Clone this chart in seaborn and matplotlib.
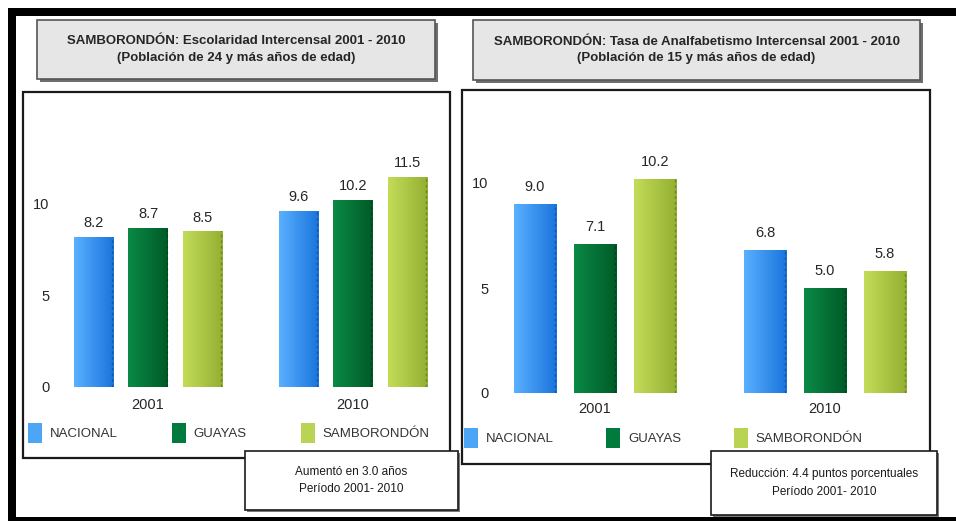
import numpy as np
import pandas as pd
import matplotlib
matplotlib.use("Agg")
import matplotlib.pyplot as plt
import seaborn as sns
from matplotlib.patches import Rectangle, Patch
from matplotlib.colors import LinearSegmentedColormap

# ---------------- data ----------------
years = ["2001", "2010"]
regions = ["NACIONAL", "GUAYAS", "SAMBORONDÓN"]
esc_nacional = [8.2, 9.6]
esc_guayas = [8.7, 10.2]
esc_samborondon = [8.5, 11.5]
anal_nacional = [9.0, 6.8]
anal_guayas = [7.1, 5.0]
anal_samborondon = [10.2, 5.8]
yticks = [0, 5, 10]
title_left = "SAMBORONDÓN: Escolaridad Intercensal 2001 - 2010\n(Población de 24 y más años de edad)"
title_right = "SAMBORONDÓN: Tasa de Analfabetismo Intercensal 2001 - 2010\n(Población de 15 y más años de edad)"
note_left = "Aumentó en 3.0 años\nPeríodo 2001- 2010"
note_right = "Reducción: 4.4 puntos porcentuales\nPeríodo 2001- 2010"

colors = ["#4da6f5", "#007a3d", "#b8d452"]
grad = [("#5ab0ff", "#1a74dc"), ("#0a8a45", "#005a28"), ("#c3dc58", "#94b032")]


def long_df(nac, gua, sam):
    rows = []
    for reg, vals in zip(regions, [nac, gua, sam]):
        for y, v in zip(years, vals):
            rows.append({"year": y, "region": reg, "value": v})
    return pd.DataFrame(rows)


df_esc = long_df(esc_nacional, esc_guayas, esc_samborondon)
df_anal = long_df(anal_nacional, anal_guayas, anal_samborondon)

sns.set_style("white")
plt.rcParams["font.family"] = ["Liberation Sans", "DejaVu Sans"]

W, H = 956, 521
fig = plt.figure(figsize=(W / 100, H / 100), dpi=100)
fig.patch.set_facecolor("white")


def px_axes(x0, y0, x1, y1, **kw):
    return fig.add_axes([x0 / W, 1 - y1 / H, (x1 - x0) / W, (y1 - y0) / H], **kw)


def rect(x0, y0, x1, y1, fc, ec="none", lw=0, z=0):
    fig.add_artist(Rectangle((x0 / W, 1 - y1 / H), (x1 - x0) / W, (y1 - y0) / H,
                             transform=fig.transFigure, facecolor=fc, edgecolor=ec,
                             linewidth=lw, zorder=z))


# outer black frame
rect(8, 8, 16, 521, "black", z=1)
rect(8, 8, 956, 16, "black", z=1)
rect(8, 517, 956, 521, "black", z=1)

# title boxes (shadow + box)
for (x0, y0, x1, y1), t in [((37, 20, 435, 79), title_left), ((473, 20, 920, 80), title_right)]:
    rect(x0 + 3, y0 + 3, x1 + 3, y1 + 3, "#6e6e6e", z=1)
    rect(x0, y0, x1, y1, "#e6e6e6", ec="#555555", lw=1.2, z=2)
    fig.text((x0 + x1) / 2 / W, 1 - (y0 + y1) / 2 / H, t, ha="center", va="center",
             fontsize=9.5, fontweight="bold", color="#262626", linespacing=1.55, zorder=3)

# chart frames
rect(23, 92, 450, 458, "white", ec="#1a1a1a", lw=1.6, z=1)
rect(462, 90, 930, 464, "white", ec="#1a1a1a", lw=1.6, z=1)


def draw_panel(df, ax_px, ylim_top, xlim, width, gap, pad_val, pad_x, legend_pos):
    ax = px_axes(*ax_px)
    ax.set_zorder(5)
    ax.patch.set_alpha(0)
    sns.barplot(data=df, x="year", y="value", hue="region", hue_order=regions,
                order=years, palette=colors, saturation=1, width=width, gap=gap,
                ax=ax, legend=False, errorbar=None)
    # gradient fill on each bar
    for ci, cont in enumerate(ax.containers):
        cmap = LinearSegmentedColormap.from_list("g", list(grad[ci]))
        for p in cont.patches:
            x0, y0 = p.get_x(), p.get_y()
            w, h = p.get_width(), p.get_height()
            im = ax.imshow(np.linspace(0, 1, 64).reshape(1, -1), cmap=cmap, aspect="auto",
                           extent=[x0, x0 + w, y0, y0 + h], origin="lower", zorder=3,
                           interpolation="bilinear")
            im.set_clip_path(p)
            ax.plot([x0 + w * 0.97, x0 + w * 0.97], [y0, y0 + h], color="#000000",
                    alpha=0.25, lw=1, ls=(0, (2, 2)), zorder=4)
        ax.bar_label(cont, fmt="%.1f", padding=pad_val, fontsize=10.5, color="#262626")
    ax.set_xlim(*xlim)
    ax.set_ylim(0, ylim_top)
    ax.set_yticks(yticks)
    ax.set_xlabel("")
    ax.set_ylabel("")
    for s in ax.spines.values():
        s.set_visible(False)
    ax.tick_params(axis="both", length=0, labelsize=10.5, labelcolor="#262626")
    ax.tick_params(axis="y", pad=4)
    ax.tick_params(axis="x", pad=pad_x)
    handles = [Patch(facecolor=c, edgecolor="none") for c in colors]
    lx, ly, cs = legend_pos
    ax.legend(handles, regions, ncol=3, loc="center left",
              bbox_to_anchor=(lx / W, 1 - ly / H), bbox_transform=fig.transFigure,
              frameon=False, handlelength=1.05, handleheight=1.9, handletextpad=0.6,
              columnspacing=cs, borderaxespad=0, borderpad=0,
              prop={"size": 9.5}, labelcolor="#333333")
    return ax


# left: escolaridad (baseline y=387px, 18.3 px/unit)
draw_panel(df_esc, (55, 100, 445, 387), (387 - 100) / 18.3, (-0.454, 1.449),
           0.8, 0.28, 5, 8, (28, 433, 4.1))
# right: analfabetismo (baseline y=393px, 21 px/unit)
draw_panel(df_anal, (494, 100, 925, 393), (393 - 100) / 21.0, (-(595 - 494) / 230, (925 - 595) / 230),
           0.783, 0.30, 7, 6.5, (464, 438, 4.0))

# annotation boxes
for (x0, y0, x1, y1), t in [((245, 451, 458, 510), note_left), ((711, 451, 937, 515), note_right)]:
    rect(x0 + 2, y0 + 2, x1 + 2, y1 + 2, "#7a7a7a", z=8)
    rect(x0, y0, x1, y1, "white", ec="#1a1a1a", lw=1.2, z=9)
    fig.text((x0 + x1) / 2 / W, 1 - (y0 + y1) / 2 / H, t, ha="center", va="center",
             fontsize=8.5, color="#1a1a1a", linespacing=1.6, zorder=10)

fig.savefig("out.png", dpi=100, facecolor="white")
